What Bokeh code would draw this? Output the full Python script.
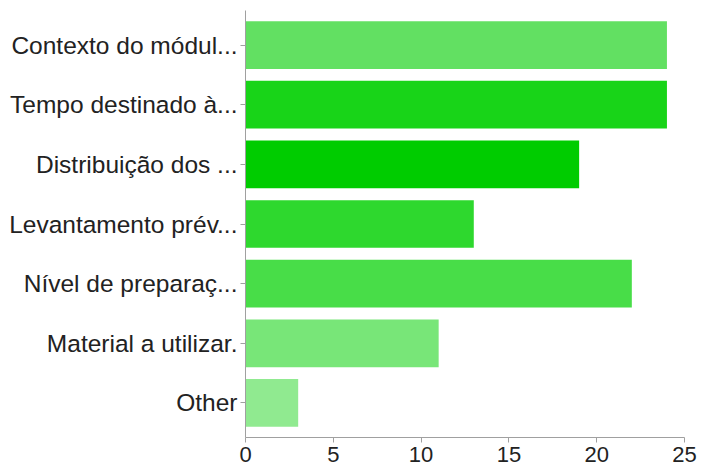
from bokeh.plotting import figure
from bokeh.models import FactorRange, Range1d, ColumnDataSource, FixedTicker
from bokeh.embed import file_html
from bokeh.resources import INLINE

categories = ["Contexto do módul...", "Tempo destinado à...", "Distribuição dos ...",
              "Levantamento prév...", "Nível de preparaç...", "Material a utilizar.", "Other"]
values = [24, 24, 19, 13, 22, 11, 3]
colors = ["#62e062", "#18d418", "#00cc00", "#2ed82e", "#48dd48", "#78e678", "#90ea90"]
x_ticks = [0, 5, 10, 15, 20, 25]

src = ColumnDataSource(dict(cat=categories, val=values, col=colors))

p = figure(width=702, height=470, output_backend="svg", toolbar_location=None,
           y_range=FactorRange(*reversed(categories), range_padding=0.08,
                               range_padding_units="absolute"),
           x_range=Range1d(0, 25),
           min_border_left=245, min_border_right=18, min_border_top=10, min_border_bottom=33)
p.hbar(y="cat", right="val", left=0, height=0.8, fill_color="col", line_color=None, source=src)

p.outline_line_color = None
p.grid.grid_line_color = None
p.background_fill_color = "white"

p.xaxis.ticker = FixedTicker(ticks=x_ticks)
for ax in (p.xaxis[0], p.yaxis[0]):
    ax.axis_line_color = "#a0a0a0"
    ax.major_tick_line_color = "#a0a0a0"
    ax.major_tick_out = 5
    ax.major_tick_in = 0
    ax.minor_tick_line_color = None
    ax.major_label_text_font = "Liberation Sans"
    ax.major_label_text_color = "#222222"
    ax.major_label_text_font_style = "normal"
p.yaxis.major_label_text_font_size = "24.5px"
p.xaxis.major_label_text_font_size = "22px"
p.yaxis.major_label_standoff = 3
p.xaxis.major_label_standoff = 4

open("out.html", "w").write(file_html(p, INLINE))
